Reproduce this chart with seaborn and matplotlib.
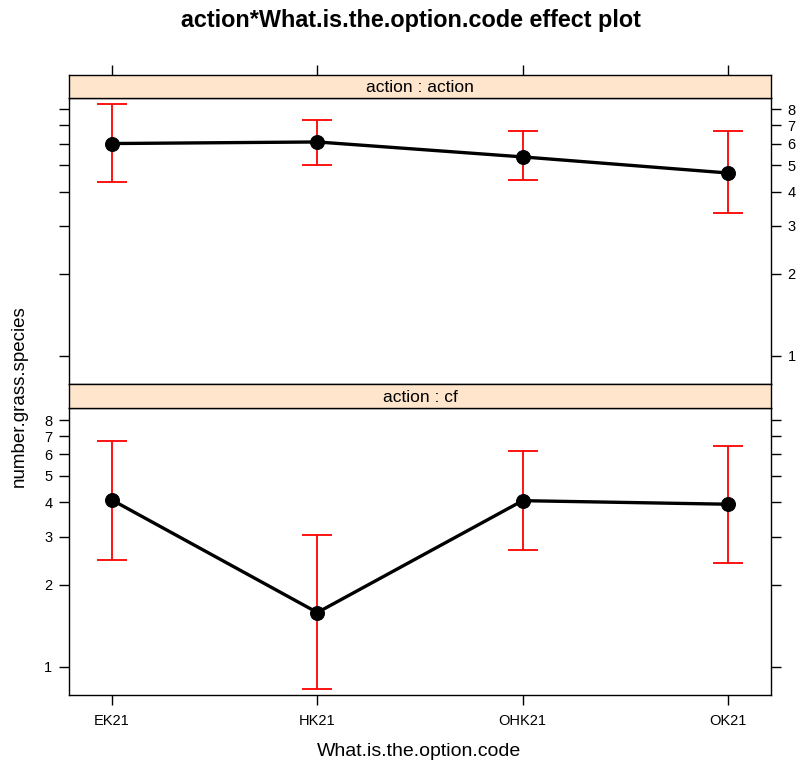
import numpy as np
import pandas as pd
import seaborn as sns
import matplotlib
matplotlib.use("Agg")
import matplotlib.pyplot as plt
from matplotlib.ticker import FixedLocator, NullLocator, NullFormatter

sns.set_theme(style="white")
plt.rcParams['font.family'] = ['Liberation Sans', 'DejaVu Sans']
plt.rcParams['text.color'] = 'black'

# ---- data ----
codes = ["EK21", "HK21", "OHK21", "OK21"]
action_fit = [6.0, 6.08, 5.36, 4.68]
action_lower = [4.34, 5.02, 4.40, 3.35]
action_upper = [8.40, 7.30, 6.67, 6.67]
cf_fit = [4.08, 1.58, 4.06, 3.94]
cf_lower = [2.46, 0.83, 2.68, 2.40]
cf_upper = [6.73, 3.05, 6.15, 6.43]
panel_titles = ["action : action", "action : cf"]
ytick_vals = [1, 2, 3, 4, 5, 6, 7, 8]

W, H = 798, 769
fig = plt.figure(figsize=(W / 100, H / 100), dpi=100)

def fx(px):
    return px / W

def fy(py):
    return 1 - py / H

left, right = 69, 771
panels = [
    # (strip_top, strip_bottom, plot_bottom)
    (75, 97.5, 384),
    (384, 408.3, 695),
]
ylim = (0.788, 8.85)
xlim = (-0.21, 3.21)

datasets = [
    (action_fit, action_lower, action_upper),
    (cf_fit, cf_lower, cf_upper),
]

for i, ((st, sb, pb), (fit, lo, hi)) in enumerate(zip(panels, datasets)):
    ax = fig.add_axes([fx(left), fy(pb), fx(right - left), fy(sb) - fy(pb)])
    sax = fig.add_axes([fx(left), fy(sb), fx(right - left), fy(st) - fy(sb)])
    df = pd.DataFrame({"code": codes, "fit": fit, "lower": lo, "upper": hi})
    xpos = np.arange(len(codes))
    df["x"] = xpos
    sns.lineplot(data=df, x="x", y="fit", ax=ax, color="black", linewidth=2.4,
                 marker="o", markersize=10, markeredgecolor="black", zorder=3,
                 legend=False)
    ax.errorbar(df["x"], df["fit"],
                yerr=[df["fit"] - df["lower"], df["upper"] - df["fit"]],
                fmt="none", ecolor="#FF0000", elinewidth=1.3, capsize=11,
                capthick=1.3, zorder=2)
    ax.set_yscale("log")
    ax.set_ylim(*ylim)
    ax.set_xlim(*xlim)
    ax.yaxis.set_major_locator(FixedLocator(ytick_vals))
    ax.yaxis.set_minor_locator(NullLocator())
    ax.yaxis.set_minor_formatter(NullFormatter())
    ax.set_yticks(ytick_vals)
    ax.set_yticklabels([str(v) for v in ytick_vals])
    ax.set_xticks(xpos)
    ax.set_xticklabels(codes)
    ax.set_xlabel("")
    ax.set_ylabel("")
    for sp in ax.spines.values():
        sp.set_color("black")
        sp.set_linewidth(1.0)
    ax.tick_params(axis="both", which="major", length=7, width=1.0,
                   color="black", labelsize=10.5, labelcolor="black",
                   direction="out", pad=5)
    if i == 0:
        ax.tick_params(axis="y", left=True, right=True, labelleft=False,
                       labelright=True)
        ax.tick_params(axis="x", bottom=False, labelbottom=False)
    else:
        ax.tick_params(axis="y", left=True, right=True, labelleft=True,
                       labelright=False)
        ax.tick_params(axis="x", bottom=True, labelbottom=True, pad=7)
    # strip
    sax.set_facecolor("#FFE5CC")
    sax.set_xlim(*xlim)
    sax.set_yticks([])
    for sp in sax.spines.values():
        sp.set_color("black")
        sp.set_linewidth(1.0)
    if i == 0:
        sax.set_xticks(xpos)
        sax.tick_params(axis="x", top=True, bottom=False, labeltop=False,
                        labelbottom=False, length=7, width=1.0, color="black",
                        direction="out")
    else:
        sax.set_xticks([])
    sax.text(0.5, 0.45, panel_titles[i], transform=sax.transAxes,
             ha="center", va="center", fontsize=12.5, color="black")

fig.text(fx(411), fy(20), "action*What.is.the.option.code effect plot",
         ha="center", va="center", fontsize=16.8, fontweight="bold",
         color="black")
fig.text(fx(419), fy(752), "What.is.the.option.code", ha="center",
         va="center", fontsize=14, color="black")
fig.text(fx(19), fy(396), "number.grass.species", ha="center", va="center",
         rotation=90, fontsize=13.5, color="black")

fig.savefig("out.png", dpi=100)
